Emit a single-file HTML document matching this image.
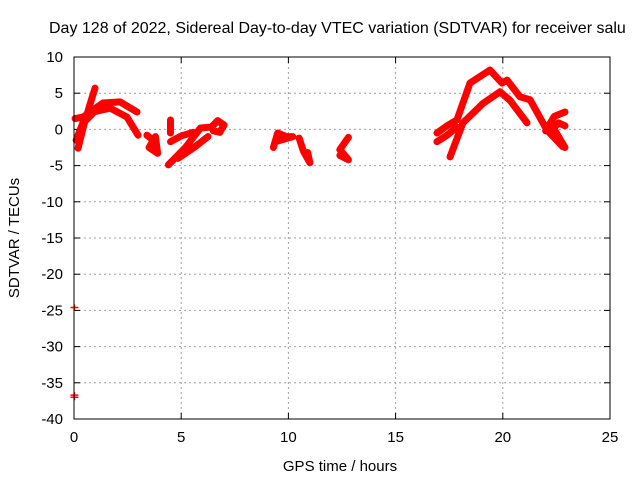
<!DOCTYPE html>
<html><head><meta charset="utf-8"><style>
body{margin:0;background:#fff}
svg{display:block;font-family:"Liberation Sans",sans-serif}
</style></head><body>
<svg id="chart" width="640" height="480" viewBox="0 0 640 480">
<rect width="640" height="480" fill="#fff"/>
<text x="49" y="33" font-size="16" fill="#000">Day 128 of 2022, Sidereal Day-to-day VTEC variation (SDTVAR) for receiver salu</text>
<g id="grid"></g>
<g id="axes"></g>
<g id="marks"></g>
<rect x="74" y="57" width="536" height="362" fill="none" stroke="#000" stroke-width="1"/>
<text x="340" y="471" font-size="15" text-anchor="middle">GPS time / hours</text>
<text transform="translate(19,238) rotate(-90)" font-size="15" text-anchor="middle">SDTVAR / TECUs</text>
</svg>
<script>
const xTicks=[0,5,10,15,20,25];
const yTicks=[10,5,0,-5,-10,-15,-20,-25,-30,-35,-40];
const trackA=[[0.19,-2.6],[0.45,0.5],[0.75,3.5],[0.98,5.7]];
const trackA2=[[0.1,-1.5],[0.4,0.8],[0.9,2.3]];
const trackB=[[0.05,1.5],[0.42,1.7],[1.35,3.65],[2.15,3.8],[2.94,2.4]];
const trackC=[[0.75,2.3],[1.68,2.95],[2.47,1.7],[2.99,-0.8]];
const clusterA=[[3.4,-0.8],[3.7,-1.5],[3.5,-2.5],[3.9,-3.3],[3.8,-1.0]];
const clusterB=[[4.5,1.3],[4.5,-0.5]];
const trackD=[[4.4,-4.9],[5.2,-2.5],[5.9,0.2],[6.3,0.3]];
const trackE=[[4.5,-1.7],[5.0,-0.9],[5.55,-0.4]];
const trackF=[[4.85,-4.0],[5.6,-2.5],[6.25,-1.0]];
const clusterC=[[6.4,0.3],[6.7,1.2],[7.0,0.6],[6.8,-0.4],[6.5,-0.2]];
const clusterD=[[9.3,-2.5],[9.5,-0.5],[9.9,-1.0],[10.2,-1.0],[9.5,-1.6]];
const clusterE=[[10.5,-1.2],[10.7,-3.0],[11.0,-4.6],[10.9,-3.2]];
const clusterF=[[12.8,-1.1],[12.4,-2.8],[12.8,-4.2],[12.4,-3.6]];
const trackG=[[16.93,-0.5],[17.4,0.5],[17.86,1.3],[18.47,6.4],[19.4,8.2],[19.96,6.4],[20.2,6.8],[20.8,4.5],[21.27,4.1],[22.06,-0.1],[22.8,-2.4]];
const trackG2=[[16.93,-1.7],[17.4,-0.8],[17.86,0.3]];
const trackH=[[17.54,-3.8],[18.14,0.9],[19.08,3.6],[19.87,5.2],[20.34,4.0],[21.13,0.9]];
const trackI=[[22.0,-0.2],[22.4,1.8],[22.9,2.4]];
const trackI2=[[22.3,0.5],[22.6,-1.0],[22.9,-2.5]];
const trackI3=[[22.2,-0.4],[22.6,0.9],[22.9,0.5]];
const outliers=[[0.02,-24.6],[0.02,-36.7],[0.02,-37.0]];
const tracks=[trackA,trackA2,trackB,trackC,clusterA,clusterB,trackD,trackE,trackF,clusterC,clusterD,clusterE,clusterF,trackG,trackG2,trackH,trackI,trackI2,trackI3];

const X0=74,X1=610,Y0=419,Y1=57,xmin=0,xmax=25,ymin=-40,ymax=10;
function sx(v){return X0+(v-xmin)/(xmax-xmin)*(X1-X0);}
function sy(v){return Y0-(v-ymin)/(ymax-ymin)*(Y0-Y1);}
const NS="http://www.w3.org/2000/svg";
function mk(t,a,p){const e=document.createElementNS(NS,t);for(const k in a)e.setAttribute(k,a[k]);p.appendChild(e);return e;}
const grid=document.getElementById('grid'),axes=document.getElementById('axes'),marks=document.getElementById('marks');
xTicks.forEach(t=>{
  const x=sx(t);
  if(t>xmin&&t<xmax){const g=mk('line',{x1:x,x2:x,y1:Y1,y2:Y0,stroke:'#a0a0a0','stroke-dasharray':'2,3'},grid);
  
  }
  mk('line',{x1:x,x2:x,y1:Y0,y2:Y0-6,stroke:'#000'},axes);
  mk('line',{x1:x,x2:x,y1:Y1,y2:Y1+6,stroke:'#000'},axes);
  const l=mk('text',{x:x,y:Y0+23,'font-size':15,'text-anchor':'middle'},axes);l.textContent=t;
  
  
});
yTicks.forEach(t=>{
  const y=sy(t);
  if(t>ymin&&t<ymax){const g=mk('line',{x1:X0,x2:X1,y1:y,y2:y,stroke:'#a0a0a0','stroke-dasharray':'2,3'},grid);
  
  }
  mk('line',{x1:X0,x2:X0+6,y1:y,y2:y,stroke:'#000'},axes);
  mk('line',{x1:X1,x2:X1-6,y1:y,y2:y,stroke:'#000'},axes);
  const l=mk('text',{x:X0-11,y:y+5,'font-size':15,'text-anchor':'end'},axes);l.textContent=t;
  
  
});
tracks.forEach(tr=>{
  const p=mk('polyline',{points:tr.map(d=>sx(d[0])+','+sy(d[1])).join(' '),fill:'none',stroke:'#ff0000','stroke-width':7,'stroke-linejoin':'round','stroke-linecap':'round'},marks);
  
  
});
outliers.forEach(d=>{
  const x=sx(d[0]),y=sy(d[1]);
  const p=mk('path',{d:`M${x-4},${y}H${x+4}M${x},${y-3}V${y+3}`,stroke:'#ff0000','stroke-width':1.5},marks);
  
  
});
</script>
</body></html>
